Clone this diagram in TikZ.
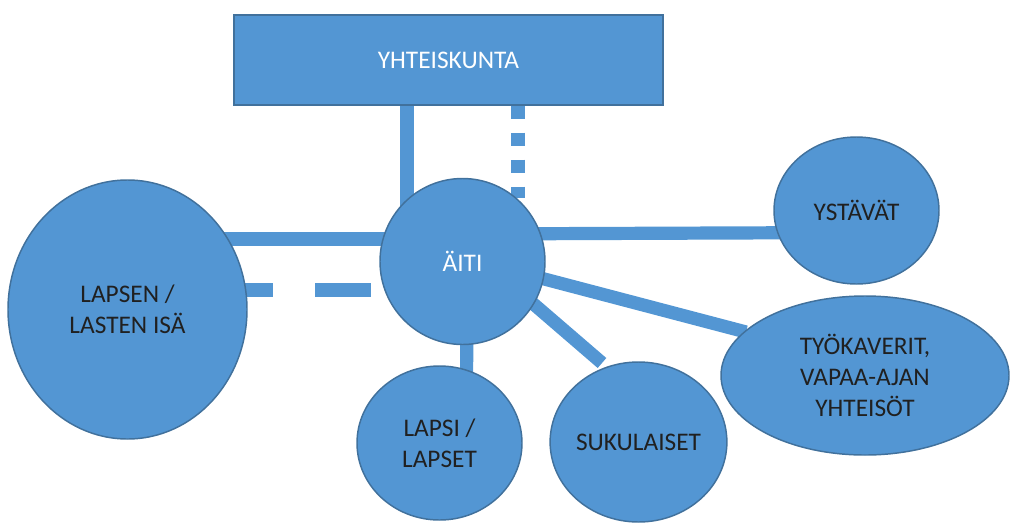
\documentclass[tikz,border=0pt]{standalone}
\usepackage{fontspec}
\setmainfont{Carlito}
\usetikzlibrary{shapes.geometric,calc,backgrounds}
\definecolor{boxfill}{RGB}{83,150,211}
\definecolor{boxline}{RGB}{65,113,156}
\definecolor{linkcol}{RGB}{83,150,211}
\definecolor{darktext}{RGB}{32,32,32}
\tikzset{
  blob/.style={ellipse, fill=boxfill, draw=boxline, line width=1.1pt, inner sep=0pt,
    align=center, text=darktext, font=\fontsize{19}{23.25}\selectfont},
  whitetext/.style={text=white},
  link/.style={draw=linkcol, line width=9.9pt, line cap=butt},
  dotlink/.style={link, dash pattern=on 9.75pt off 10.5pt},
  dashlink/.style={link, dash pattern=on 42pt off 31.5pt}
}
\begin{document}
\begin{tikzpicture}[x=0.75pt,y=-0.75pt]
\useasboundingbox (0,0) rectangle (1011,522);
% nodes
\node[rectangle, fill=boxfill, draw=boxline, line width=1.1pt,
      minimum width=321.75pt, minimum height=67.5pt, inner sep=0pt,
      text=white, font=\fontsize{19}{23.25}\selectfont] (yht) at (448.5,60) {YHTEISKUNTA};
\node[blob, whitetext, minimum width=123.75pt, minimum height=124.5pt] (aiti) at (462.5,261.5) {ÄITI};
\node[blob, minimum width=179.25pt, minimum height=194.25pt] (isa) at (127.5,309.5) {LAPSEN /\\LASTEN ISÄ};
\node[blob, minimum width=123.75pt, minimum height=110.25pt] (yst) at (856.5,210.5) {YSTÄVÄT};
\node[blob, minimum width=216pt, minimum height=119.25pt] (tyo) at (865,375.5) {TYÖKAVERIT,\\VAPAA-AJAN\\YHTEISÖT};
\node[blob, minimum width=123.75pt, minimum height=115.5pt] (lapsi) at (439.5,443) {LAPSI /\\LAPSET};
\node[blob, minimum width=125.25pt, minimum height=120pt] (suk) at (638.5,442) {SUKULAISET};
% connectors behind the nodes
\begin{scope}[on background layer]
\draw[link] ($(yht.south)+(-41.5,-3)$) -- ($(aiti.center)+(-55.5,-30)$);
\draw[dotlink] ($(yht.south)+(69.5,0)$) -- ($(aiti.center)+(55.5,-64)$);
\draw[link] ($(isa.center)+(90,-70.5)$) -- ($(aiti.center)+(0,-22.5)$);
\draw[dashlink] ($(isa.center)+(89.5,-19.5)$) -- ($(aiti.center)+(-91.5,28.5)$);
\draw[link] ($(aiti.center)+(0,-27.5)$) -- ($(yst.center)+(0,22)$);
\draw[link] ($(aiti.center)+(0,-4)$) -- ($(tyo.center)+(-119,-43.5)$);
\draw[link] ($(aiti.center)+(60,33)$) -- ($(suk.center)+(-36.5,-79)$);
\draw[link] ($(aiti.center)+(4.5,0)$) -- ($(lapsi.center)+(27,-40)$);
\end{scope}
\end{tikzpicture}
\end{document}
